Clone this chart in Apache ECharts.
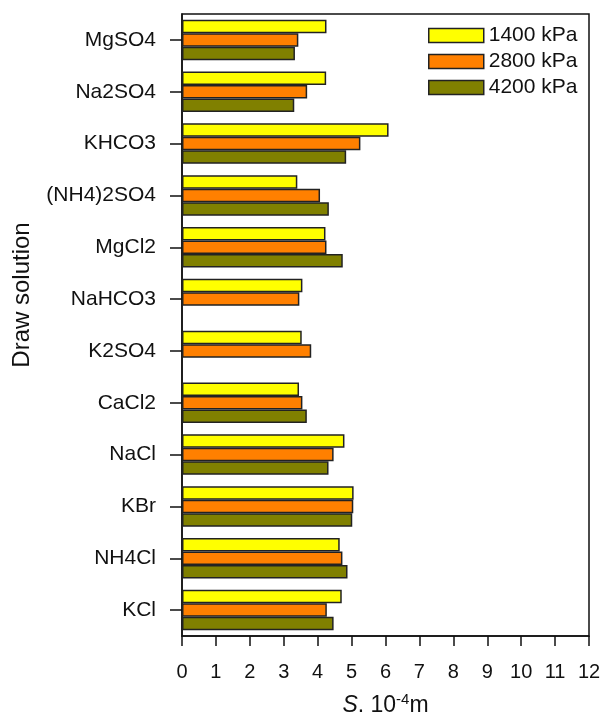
<!DOCTYPE html>
<html>
<head>
<meta charset="utf-8">
<script src="https://cdn.jsdelivr.net/npm/echarts@6/dist/echarts.min.js"></script>
<style>
  html, body { margin: 0; padding: 0; background: #fff; }
  #main { width: 605px; height: 716px; }
</style>
</head>
<body>
<div id="main"></div>
<script>
// categories, top to bottom
var solutions = ['MgSO4', 'Na2SO4', 'KHCO3', '(NH4)2SO4', 'MgCl2', 'NaHCO3', 'K2SO4', 'CaCl2', 'NaCl', 'KBr', 'NH4Cl', 'KCl']
var seriesNames = ['1400 kPa', '2800 kPa', '4200 kPa']
// S, 10^-4 m
var s1400 = [4.26, 4.25, 6.09, 3.40, 4.23, 3.55, 3.53, 3.45, 4.79, 5.06, 4.65, 4.71]
var s2800 = [3.43, 3.69, 5.26, 4.07, 4.26, 3.46, 3.81, 3.55, 4.47, 5.05, 4.73, 4.27]
var s4200 = [3.33, 3.31, 4.84, 4.33, 4.74, null, null, 3.68, 4.32, 5.02, 4.88, 4.47]
var xTicks = [0, 12, 1]

var font = 'Liberation Sans, Arial, sans-serif'
var colors = ['#ffff00', '#ff8000', '#808000']

function barSeries (name, data, color) {
  return {
    name: name,
    type: 'bar',
    data: data,
    barWidth: 13.5,
    barGap: '0%',
    itemStyle: {
      color: color,
      borderColor: '#222',
      borderWidth: 1.5
    }
  }
}

var myChart = echarts.init(document.getElementById('main'))
myChart.setOption({
  animation: false,
  textStyle: { fontFamily: font },
  grid: {
    left: 182,
    right: 16,
    top: 14,
    bottom: 80,
    outerBoundsMode: 'none',
    show: true,
    borderColor: '#111',
    borderWidth: 1.5
  },
  legend: {
    orient: 'vertical',
    left: 423,
    top: 20,
    icon: 'rect',
    itemWidth: 55,
    itemHeight: 14,
    itemGap: 5,
    data: seriesNames,
    itemStyle: { borderColor: '#222', borderWidth: 1.5 },
    textStyle: { fontSize: 21, color: '#111', fontFamily: font }
  },
  xAxis: {
    type: 'value',
    min: xTicks[0],
    max: xTicks[1],
    interval: xTicks[2],
    name: '{i|S}. 10{sup|-4}m',
    nameLocation: 'middle',
    nameGap: 56,
    nameTextStyle: {
      fontSize: 23,
      color: '#111',
      rich: {
        i: { fontStyle: 'italic', fontSize: 23, color: '#111' },
        sup: { fontSize: 15, verticalAlign: 'top', padding: [0, 0, 12, 0], color: '#111' }
      }
    },
    axisLine: { show: true, lineStyle: { color: '#111', width: 1.5 } },
    axisTick: { show: true, inside: false, length: 10, lineStyle: { color: '#111', width: 1.5 } },
    axisLabel: { fontSize: 20, color: '#111', margin: 26 },
    splitLine: { show: false }
  },
  yAxis: {
    type: 'category',
    data: solutions,
    inverse: true,
    name: 'Draw solution',
    nameLocation: 'middle',
    nameGap: 148,
    nameTextStyle: { fontSize: 24, color: '#111', padding: [0, 0, 0, 60] },
    axisLine: { show: true, lineStyle: { color: '#111', width: 1.5 } },
    axisTick: { show: true, alignWithLabel: true, length: 12, lineStyle: { color: '#111', width: 1.5 } },
    axisLabel: { fontSize: 21, color: '#111', margin: 26 }
  },
  series: [
    barSeries(seriesNames[0], s1400, colors[0]),
    barSeries(seriesNames[1], s2800, colors[1]),
    barSeries(seriesNames[2], s4200, colors[2])
  ]
})
</script>
</body>
</html>
